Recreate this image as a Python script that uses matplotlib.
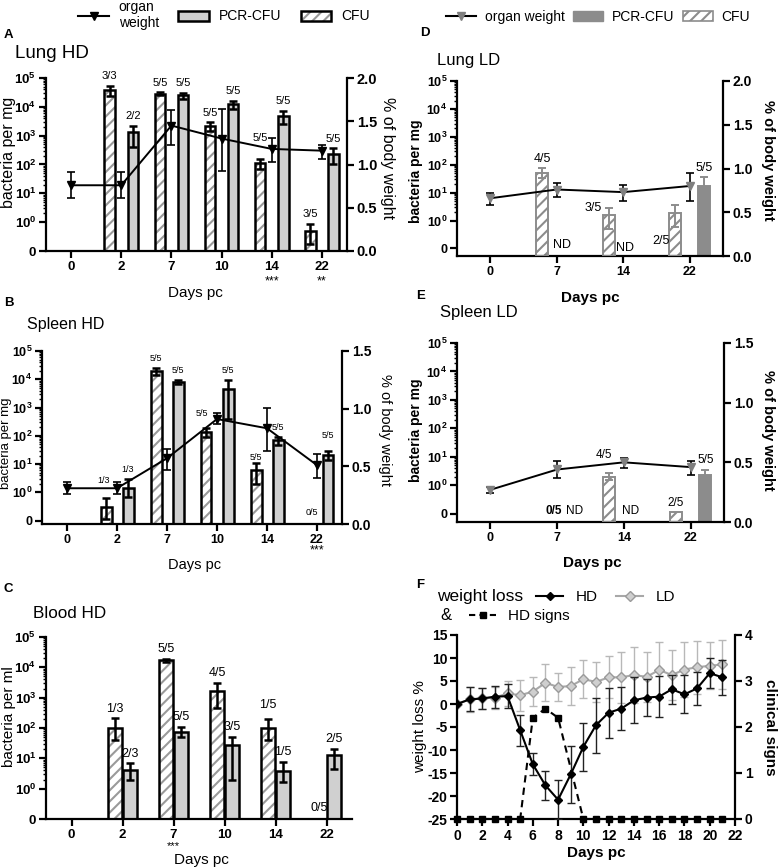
import numpy as np
import matplotlib
matplotlib.use("Agg")
import matplotlib.pyplot as plt
from matplotlib.patches import Patch
from matplotlib.lines import Line2D
from matplotlib.legend_handler import HandlerTuple
from matplotlib.ticker import FixedLocator

plt.rcParams.update({
    'font.family': ['Liberation Sans', 'DejaVu Sans'],
    'mathtext.fontset': 'custom',
    'mathtext.rm': 'Liberation Sans',
    'mathtext.bf': 'Liberation Sans:bold',
    'hatch.linewidth': 1.5,
    'axes.linewidth': 1.6,
})

nan = np.nan
W, H = 780, 868

# ---------------- data ----------------
hd_days = ['0', '2', '7', '10', '14', '22']
ld_days = ['0', '7', '14', '22']

# A  Lung HD  (bacteria per mg, organ weight % of body weight)
lung_hd_cfu = [nan, 3.7e4, 2.8e4, 2.2e3, 1.1e2, 0.7]
lung_hd_cfu_lo = [nan, 2.3e4, 2.6e4, 1.5e3, 68, 0.25]
lung_hd_cfu_hi = [nan, 5.4e4, 3.2e4, 2.9e3, 155, 0.95]
lung_hd_pcr = [nan, 1.3e3, 2.5e4, 1.25e4, 5.0e3, 2.3e2]
lung_hd_pcr_lo = [nan, 400, 1.8e4, 8.3e3, 2.6e3, 1.0e2]
lung_hd_pcr_hi = [nan, 2.2e3, 3.0e4, 1.6e4, 7.4e3, 3.6e2]
lung_hd_cfu_n = ['', '3/3', '5/5', '5/5', '5/5', '3/5']
lung_hd_pcr_n = ['', '2/2', '5/5', '5/5', '5/5', '5/5']
lung_hd_wt = [0.76, 0.76, 1.45, 1.30, 1.18, 1.16]
lung_hd_wt_lo = [0.61, 0.61, 1.23, 0.93, 1.03, 1.06]
lung_hd_wt_hi = [0.91, 0.91, 1.63, 1.64, 1.31, 1.23]
lung_hd_stars = ['', '', '', '', '***', '**']

# B  Spleen HD
spleen_hd_cfu = [nan, 0.49, 1.9e4, 1.4e2, 6.2, 0]
spleen_hd_cfu_lo = [nan, 0.05, 1.4e4, 91, 1.95, nan]
spleen_hd_cfu_hi = [nan, 0.79, 2.5e4, 195, 11, nan]
spleen_hd_pcr = [nan, 1.46, 8.1e3, 4.7e3, 71, 21]
spleen_hd_pcr_lo = [nan, 0.85, 6.6e3, 380, 47, 14]
spleen_hd_pcr_hi = [nan, 2.9, 9.1e3, 9.1e3, 92, 30]
spleen_hd_cfu_n = ['', '1/3', '5/5', '5/5', '5/5', '0/5']
spleen_hd_pcr_n = ['', '1/3', '5/5', '5/5', '5/5', '5/5']
spleen_hd_wt = [0.31, 0.31, 0.57, 0.91, 0.83, 0.51]
spleen_hd_wt_lo = [0.26, 0.26, 0.47, 0.87, 0.63, 0.40]
spleen_hd_wt_hi = [0.36, 0.36, 0.65, 0.96, 1.01, 0.61]
spleen_hd_stars = ['', '', '', '', '', '***']

# C  Blood HD (bacteria per ml)
blood_hd_cfu = [nan, 98, 1.8e4, 1.7e3, 98, 0]
blood_hd_cfu_lo = [nan, 40, 1.5e4, 450, 40, nan]
blood_hd_cfu_hi = [nan, 210, 1.9e4, 3.0e3, 200, nan]
blood_hd_pcr = [nan, 4.1, 76, 27, 3.7, 12.6]
blood_hd_pcr_lo = [nan, 1.9, 51, 2.0, 1.66, 4.4]
blood_hd_pcr_hi = [nan, 6.8, 110, 51, 7.6, 21]
blood_hd_cfu_n = ['', '1/3', '5/5', '4/5', '1/5', '0/5']
blood_hd_pcr_n = ['', '2/3', '5/5', '3/5', '1/5', '2/5']
blood_hd_stars = ['', '', '***', '', '', '']

# D  Lung LD
lung_ld_cfu = [nan, 49, 1.6, 1.8]
lung_ld_cfu_lo = [nan, 33, 0.7, 0.78]
lung_ld_cfu_hi = [nan, 74, 2.75, 3.5]
lung_ld_pcr = [nan, nan, nan, 17.8]
lung_ld_pcr_lo = [nan, nan, nan, 7.2]
lung_ld_pcr_hi = [nan, nan, nan, 35]
lung_ld_cfu_n = ['', '4/5', '3/5', '2/5']
lung_ld_pcr_n = ['', 'ND', 'ND', '5/5']
lung_ld_wt = [0.66, 0.76, 0.73, 0.80]
lung_ld_wt_lo = [0.58, 0.68, 0.63, 0.63]
lung_ld_wt_hi = [0.72, 0.83, 0.81, 0.95]

# E  Spleen LD
spleen_ld_cfu = [nan, 0, 1.96, 0.05]
spleen_ld_cfu_lo = [nan, nan, 1.5, nan]
spleen_ld_cfu_hi = [nan, nan, 2.6, nan]
spleen_ld_pcr = [nan, nan, nan, 2.24]
spleen_ld_pcr_lo = [nan, nan, nan, 1.3]
spleen_ld_pcr_hi = [nan, nan, nan, 3.4]
spleen_ld_cfu_n = ['', '0/5', '4/5', '2/5']
spleen_ld_pcr_n = ['', 'ND', 'ND', '5/5']
spleen_ld_wt = [0.27, 0.44, 0.50, 0.46]
spleen_ld_wt_lo = [0.245, 0.37, 0.45, 0.39]
spleen_ld_wt_hi = [0.29, 0.51, 0.54, 0.51]

# F  weight loss / clinical signs
f_days = list(range(22))
hd_weight = [0, 1.0, 1.2, 1.6, 1.7, -5.7, -13.1, -17.7, -20.8, -15.3, -9.3, -4.6,
             -1.9, -1.0, 0.8, 1.4, 1.6, 3.2, 2.1, 3.4, 6.7, 5.8]
hd_weight_sd = [0, 2.6, 2.2, 2.4, 2.6, 3.4, 2.4, 3.2, 4.2, 6.2, 5.2, 6.0,
                5.4, 4.7, 5.0, 4.1, 4.4, 3.1, 4.1, 3.6, 3.3, 3.8]
ld_weight = [0, 1.0, 1.2, 1.4, 2.3, 1.9, 2.7, 4.6, 3.7, 3.9, 5.4, 4.8,
             5.8, 5.8, 6.3, 5.9, 7.4, 6.3, 7.5, 8.0, 8.3, 8.6]
ld_weight_sd = [0, 2.8, 2.2, 2.4, 2.8, 3.4, 3.1, 4.0, 3.0, 4.1, 4.2, 4.4,
                4.6, 5.6, 6.1, 5.4, 6.1, 5.5, 6.0, 5.8, 5.1, 5.4]
hd_signs = [0, 0, 0, 0, 0, 0, 2.2, 2.4, 2.2, nan, 0, 0,
            0, 0, 0, 0, 0, 0, 0, 0, 0, 0]

# ---------------- helpers ----------------
fig = plt.figure(figsize=(W / 100, H / 100), dpi=100)


def box(l, t, r, b):
    return [l / W, 1 - b / H, (r - l) / W, (b - t) / H]


def fpos(x, y):
    return x / W, 1 - y / H


def seg_scale(gap):
    # log axis above 1, linear segment between 0 and 1 (GraphPad style)
    def fwd(v):
        v = np.asarray(v, dtype=float)
        return np.where(v >= 1, np.log10(np.clip(v, 1, None)), (v - 1) * gap)

    def inv(p):
        p = np.asarray(p, dtype=float)
        return np.where(p >= 0, np.power(10.0, np.clip(p, 0, 30)), 1 + p / gap)
    return fwd, inv


HD = dict(pcr_fc='#d0d0d0', pcr_ec='black', hatch_c='#9a9a9a', cfu_ec='black', lw=1.8,
          err_c='black', wt_mc='black')
LD = dict(pcr_fc='#8c8c8c', pcr_ec='#8c8c8c', hatch_c='#8c8c8c', cfu_ec='#8c8c8c', lw=1.4,
          err_c='#8c8c8c', wt_mc='#7f7f7f')

minor = [k * 10.0 ** n for n in range(5) for k in range(2, 10)]
major = [0, 1, 10, 100, 1e3, 1e4, 1e5]
major_lbl = ['0'] + [r'$\mathbf{10^{%d}}$' % n for n in range(6)]


def bar_panel(rect, days, cfu, cfu_lo, cfu_hi, pcr, pcr_lo, pcr_hi, cfu_n, pcr_n,
              st, gap, floor, off, width, note_fs, tick_fs, tweaks,
              wt=None, wt_lo=None, wt_hi=None, wt_max=2.0, stars=None, star_dy=20, star_fs=9):
    ax = fig.add_axes(rect)
    fwd, inv = seg_scale(gap)
    ax.set_yscale('function', functions=(fwd, inv))
    bottom = -floor / gap
    x = np.arange(len(days))
    groups = [('cfu', np.array(cfu, float), np.array(cfu_lo, float), np.array(cfu_hi, float), x - off, cfu_n),
              ('pcr', np.array(pcr, float), np.array(pcr_lo, float), np.array(pcr_hi, float), x + off, pcr_n)]
    for kind, v, lo, hi, xs, notes in groups:
        m = np.nan_to_num(v) > 0
        if kind == 'pcr':
            ax.bar(xs[m], v[m] - bottom, bottom=bottom, width=width, color=st['pcr_fc'],
                   edgecolor=st['pcr_ec'], linewidth=st['lw'], zorder=2)
        else:
            ax.bar(xs[m], v[m] - bottom, bottom=bottom, width=width, color='white',
                   edgecolor=st['hatch_c'], hatch='///', linewidth=0, zorder=2)
            ax.bar(xs[m], v[m] - bottom, bottom=bottom, width=width, fill=False,
                   edgecolor=st['cfu_ec'], linewidth=st['lw'], zorder=3)
        e = m & ~np.isnan(hi)
        ax.errorbar(xs[e], v[e], yerr=[v[e] - lo[e], hi[e] - v[e]], fmt='none',
                    ecolor=st['err_c'], elinewidth=st['lw'], capsize=3, capthick=st['lw'], zorder=4)
        for i, t in enumerate(notes):
            if not t:
                continue
            tw = tweaks.get((kind, i), {})
            dx, dy = tw.get('dx', 0), tw.get('dy', 0)
            fw = 'bold' if tw.get('bold') else 'normal'
            if t in ('ND', '0/5') or tw.get('base'):
                ax.annotate(t, xy=(xs[i], 0), xycoords=('data', 'axes fraction'),
                            xytext=(dx, 8 + dy), textcoords='offset points', ha='center',
                            va='center', fontsize=note_fs, fontweight=fw, annotation_clip=False)
            else:
                yv = hi[i] if not np.isnan(hi[i]) else v[i]
                ax.annotate(t, xy=(xs[i], yv), xytext=(dx, 7 + dy), textcoords='offset points',
                            ha='center', va='center', fontsize=note_fs, fontweight=fw, zorder=6)
    if stars:
        for i, s in enumerate(stars):
            if s:
                ax.annotate(s, xy=(x[i], 0), xycoords=('data', 'axes fraction'), xytext=(0, -star_dy),
                            textcoords='offset points', ha='center', va='center', fontsize=star_fs,
                            annotation_clip=False)
    ax.set_xlim(-0.5, len(days) - 0.5)
    ax.set_ylim(bottom, 1e5)
    ax.set_xticks(x, days, fontweight='bold', fontsize=tick_fs)
    ax.set_yticks(major, major_lbl, fontweight='bold', fontsize=tick_fs)
    ax.yaxis.set_minor_locator(FixedLocator(minor))
    ax.tick_params(which='major', direction='out', length=5, width=1.6, pad=2)
    ax.tick_params(which='minor', axis='y', direction='out', length=2.5, width=1)
    ax.spines['top'].set_visible(False)
    ax.spines['right'].set_visible(False)
    if wt is not None:
        ax2 = ax.twinx()
        w = np.array(wt, float)
        ax2.errorbar(x, w, yerr=[w - np.array(wt_lo), np.array(wt_hi) - w], fmt='-', marker='v',
                     color='black', mfc=st['wt_mc'], mec=st['wt_mc'], ms=6, lw=1.4,
                     ecolor='black', elinewidth=1.2, capsize=3, capthick=1.2, zorder=5)
        ax2.set_ylim(0, wt_max)
        yt = np.arange(0, wt_max + 0.01, 0.5)
        ax2.set_yticks(yt, ['%.1f' % t for t in yt], fontweight='bold', fontsize=tick_fs + 1)
        ax2.tick_params(direction='out', length=5, width=1.6, pad=2)
        for s in ('top', 'left', 'bottom'):
            ax2.spines[s].set_visible(False)
    return ax


# ---------------- panels ----------------
bar_panel(box(46, 78, 347, 251), hd_days, lung_hd_cfu, lung_hd_cfu_lo, lung_hd_cfu_hi,
          lung_hd_pcr, lung_hd_pcr_lo, lung_hd_pcr_hi, lung_hd_cfu_n, lung_hd_pcr_n,
          HD, 1.0, 0.0, 0.23, 0.21, 8, 9.5, {('cfu', 4): {'dy': 8}},
          lung_hd_wt, lung_hd_wt_lo, lung_hd_wt_hi, 2.0, lung_hd_stars, 22)

bar_panel(box(42, 351, 342, 524), hd_days, spleen_hd_cfu, spleen_hd_cfu_lo, spleen_hd_cfu_hi,
          spleen_hd_pcr, spleen_hd_pcr_lo, spleen_hd_pcr_hi, spleen_hd_cfu_n, spleen_hd_pcr_n,
          HD, 1.0, 0.12, 0.22, 0.22, 6.5, 9,
          {('cfu', 1): {'dx': -2, 'dy': 6}, ('cfu', 3): {'dx': -3, 'dy': 3},
           ('cfu', 4): {'dy': -3}, ('pcr', 5): {'dy': 4}, ('cfu', 5): {'dx': 4}},
          spleen_hd_wt, spleen_hd_wt_lo, spleen_hd_wt_hi, 1.5, spleen_hd_stars, 19)

bar_panel(box(46, 637, 352, 819), hd_days, blood_hd_cfu, blood_hd_cfu_lo, blood_hd_cfu_hi,
          blood_hd_pcr, blood_hd_pcr_lo, blood_hd_pcr_hi, blood_hd_cfu_n, blood_hd_pcr_n,
          HD, 1.0, 0.0, 0.145, 0.27, 9, 9.5, {('cfu', 4): {'dy': 3}},
          stars=blood_hd_stars, star_dy=19.5, star_fs=8)

bar_panel(box(457, 81, 723, 256), ld_days, lung_ld_cfu, lung_ld_cfu_lo, lung_ld_cfu_hi,
          lung_ld_pcr, lung_ld_pcr_lo, lung_ld_pcr_hi, lung_ld_cfu_n, lung_ld_pcr_n,
          LD, 1.0, 0.27, 0.22, 0.18, 9, 9,
          {('cfu', 2): {'dx': -11, 'dy': -7}, ('cfu', 3): {'dx': -10, 'dy': 3, 'base': True},
           ('pcr', 1): {'dx': -7}, ('pcr', 2): {'dx': -9, 'dy': -2}},
          lung_ld_wt, lung_ld_wt_lo, lung_ld_wt_hi, 2.0)

bar_panel(box(457, 343, 724, 522), ld_days, spleen_ld_cfu, spleen_ld_cfu_lo, spleen_ld_cfu_hi,
          spleen_ld_pcr, spleen_ld_pcr_lo, spleen_ld_pcr_hi, spleen_ld_cfu_n, spleen_ld_pcr_n,
          LD, 1.0, 0.29, 0.22, 0.18, 8.5, 9,
          {('cfu', 1): {'dx': 8, 'bold': True}, ('cfu', 2): {'dx': -4, 'dy': 6},
           ('pcr', 1): {'dx': 2}, ('pcr', 2): {'dx': -6}},
          spleen_ld_wt, spleen_ld_wt_lo, spleen_ld_wt_hi, 1.5)

# F
axf = fig.add_axes(box(457, 635, 735, 819))
axf.errorbar(f_days, ld_weight, yerr=ld_weight_sd, color='#a8a8a8', marker='D', ms=5,
             mfc='#cfcfcf', mec='#9a9a9a', lw=1.5, ecolor='#b8b8b8', elinewidth=1, capsize=3, zorder=2)
axf.errorbar(f_days, hd_weight, yerr=hd_weight_sd, color='black', marker='D', ms=4,
             lw=1.5, ecolor='#222222', elinewidth=1, capsize=3, zorder=3)
axf.set_xlim(0, 22)
axf.set_ylim(-25, 15)
axf.set_xticks(range(0, 23, 2), [str(d) for d in range(0, 23, 2)], fontweight='bold', fontsize=10)
axf.set_yticks(range(-25, 16, 5), [str(d) for d in range(-25, 16, 5)], fontweight='bold', fontsize=10)
axf.tick_params(direction='out', length=5, width=1.6, pad=2)
axf.spines['top'].set_visible(False)
axf.spines['right'].set_visible(False)
axf2 = axf.twinx()
sg = np.array(hd_signs, float)
ok = ~np.isnan(sg)
axf2.plot(np.array(f_days)[ok], sg[ok], color='black', ls=(0, (3.5, 2.5)), lw=1.5,
          marker='s', ms=4.5, clip_on=False, zorder=4)
axf2.set_ylim(0, 4)
axf2.set_yticks(range(5), [str(d) for d in range(5)], fontweight='bold', fontsize=10)
axf2.tick_params(direction='out', length=5, width=1.6, pad=2)
for s in ('top', 'left', 'bottom'):
    axf2.spines[s].set_visible(False)

# ---------------- text ----------------
for t, x, y in [('A', 4, 35), ('B', 4, 303), ('C', 4, 589), ('D', 420, 33), ('E', 416, 296), ('F', 416, 585)]:
    fig.text(*fpos(x, y), t, fontsize=9.5, fontweight='bold', ha='left', va='center')

for t, x, y, fs in [('Lung HD', 15, 53, 13.5), ('Spleen HD', 27, 325, 11.5), ('Blood HD', 33, 613, 12.3),
                    ('Lung LD', 437, 60, 12), ('Spleen LD', 440, 313, 12)]:
    fig.text(*fpos(x, y), t, fontsize=fs, ha='left', va='center')

for x, y, fs, fw in [(195, 293, 11, 'normal'), (195, 565, 10.5, 'normal'), (201, 860, 11, 'normal'),
                     (590, 298, 11, 'bold'), (592, 563, 11, 'bold'), (596, 853, 11, 'bold')]:
    fig.text(*fpos(x, y), 'Days pc', fontsize=fs, fontweight=fw, ha='center', va='center')

for t, x, y, fs, fw, rot in [('bacteria per mg', 9, 152, 11.5, 'normal', 90),
                             ('bacteria per mg', 6, 443, 9.5, 'normal', 90),
                             ('bacteria per ml', 9, 717, 11, 'normal', 90),
                             ('bacteria per mg', 416, 171, 10, 'bold', 90),
                             ('bacteria per mg', 416, 430, 10, 'bold', 90),
                             ('weight loss %', 420, 727, 11, 'normal', 90),
                             ('% of body weight', 387, 158, 11.5, 'normal', 270),
                             ('% of body weight', 385, 430, 10.5, 'normal', 270),
                             ('% of body weight', 768, 160, 10.5, 'bold', 270),
                             ('% of body weight', 768, 430, 10.5, 'bold', 270),
                             ('clinical signs', 770, 727, 11, 'bold', 270)]:
    fig.text(*fpos(x, y), t, fontsize=fs, fontweight=fw, rotation=rot, ha='center', va='center')

# legends
hd_handles = [Line2D([], [], color='black', marker='v', ms=6, lw=1.5),
              Patch(facecolor=HD['pcr_fc'], edgecolor='black', linewidth=1.8),
              (Patch(facecolor='white', edgecolor=HD['hatch_c'], hatch='///', linewidth=0),
               Patch(fill=False, edgecolor='black', linewidth=1.8))]
fig.legend(hd_handles, ['organ\nweight', 'PCR-CFU', 'CFU'], loc='center', bbox_to_anchor=fpos(224, 15),
           ncol=3, frameon=False, fontsize=10, handlelength=2.2, handletextpad=0.7, columnspacing=1.4,
           borderpad=0.1, handler_map={tuple: HandlerTuple(ndivide=1, pad=0)})

ld_handles = [Line2D([], [], color='black', marker='v', ms=6, lw=1.5, mfc=LD['wt_mc'], mec=LD['wt_mc']),
              Patch(facecolor=LD['pcr_fc'], edgecolor=LD['pcr_ec']),
              Patch(facecolor='white', edgecolor=LD['hatch_c'], hatch='///', linewidth=1.2)]
fig.legend(ld_handles, ['organ weight', 'PCR-CFU', 'CFU'], loc='center', bbox_to_anchor=fpos(598, 17),
           ncol=3, frameon=False, fontsize=10, handlelength=2.2, handletextpad=0.6, columnspacing=0.6)

fig.text(*fpos(437, 596), 'weight loss', fontsize=12.5, ha='left', va='center')
fig.text(*fpos(440, 616), '&', fontsize=12, ha='left', va='center')
f_leg1 = [Line2D([], [], color='black', marker='D', ms=4, lw=1.5),
          Line2D([], [], color='#a8a8a8', marker='D', ms=5, mfc='#cfcfcf', mec='#9a9a9a', lw=1.5)]
fig.legend(f_leg1, ['HD', 'LD'], loc='center left', bbox_to_anchor=fpos(522, 597), ncol=2,
           frameon=False, fontsize=11, handlelength=1.8, handletextpad=0.8, columnspacing=1.2)
f_leg2 = [Line2D([], [], color='black', marker='s', ms=4.5, lw=1.5, ls=(0, (3, 2)))]
fig.legend(f_leg2, ['HD signs'], loc='center left', bbox_to_anchor=fpos(455, 616),
           frameon=False, fontsize=11, handlelength=1.8, handletextpad=0.8)

fig.savefig('out.png', dpi=100)
